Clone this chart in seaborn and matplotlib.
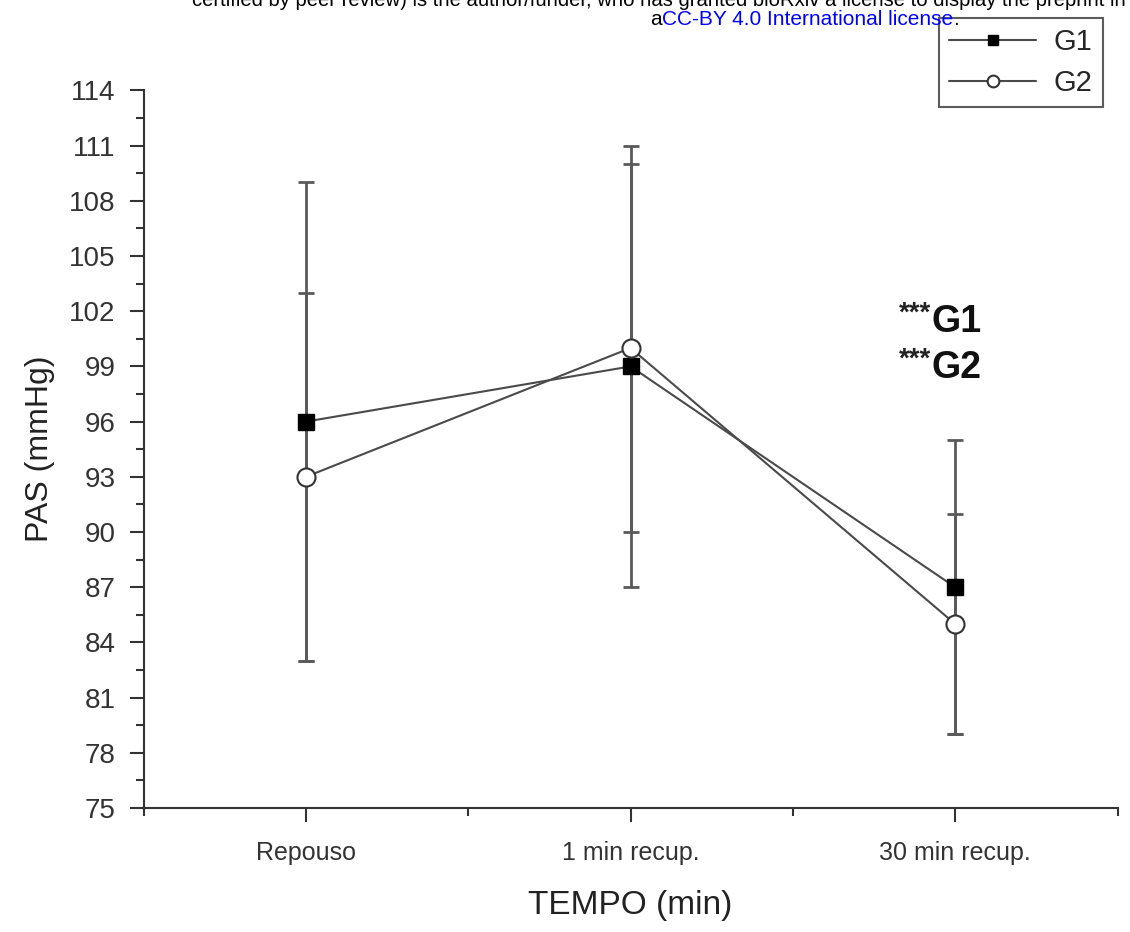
import matplotlib
matplotlib.use("Agg")
import matplotlib.pyplot as plt
import seaborn as sns
import pandas as pd
from matplotlib.ticker import FixedLocator, MultipleLocator

categories = ["Repouso", "1 min recup.", "30 min recup."]
g1_mean = [96, 99, 87]
g1_sd = [13, 12, 8]
g2_mean = [93, 100, 85]
g2_sd = [10, 10, 6]
y_ticks = [75, 78, 81, 84, 87, 90, 93, 96, 99, 102, 105, 108, 111, 114]

sns.set_theme(style="ticks")
plt.rcParams["font.family"] = ["Liberation Sans", "DejaVu Sans"]

fig = plt.figure(figsize=(11.3, 9.32), dpi=100)
ax = fig.add_axes([0.127, 0.133, 0.862, 0.770])

df = pd.DataFrame({
    "TEMPO": categories * 2,
    "PAS": g1_mean + g2_mean,
    "SD": g1_sd + g2_sd,
    "Grupo": ["G1"] * 3 + ["G2"] * 3,
})

ecol = "#5a5a5a"
lcol = "#4a4a4a"
xs = list(range(len(categories)))
ax.errorbar(xs, g1_mean, yerr=g1_sd, fmt="none", ecolor=ecol, elinewidth=2,
            capsize=6, capthick=2, zorder=2)
ax.errorbar(xs, g2_mean, yerr=g2_sd, fmt="none", ecolor=ecol, elinewidth=2,
            capsize=6, capthick=2, zorder=2)

d1 = df[df.Grupo == "G1"]
d2 = df[df.Grupo == "G2"]
sns.lineplot(data=d1, x="TEMPO", y="PAS", sort=False, ax=ax, color=lcol,
             linewidth=1.5, marker="s", markersize=11, markerfacecolor="black",
             markeredgecolor="black", markeredgewidth=1, label="G1", zorder=3)
sns.lineplot(data=d2, x="TEMPO", y="PAS", sort=False, ax=ax, color=lcol,
             linewidth=1.5, marker="o", markersize=13, markerfacecolor="white",
             markeredgecolor="#333333", markeredgewidth=1.5, label="G2", zorder=3)

ax.set_xlim(-0.5, 2.5)
ax.set_ylim(75, 114)
ax.set_yticks(y_ticks)
ax.yaxis.set_minor_locator(MultipleLocator(1.5))
ax.set_xticks(xs)
ax.set_xticklabels(categories)
ax.xaxis.set_minor_locator(FixedLocator([-0.5, 0.5, 1.5, 2.5]))
for s in ["top", "right"]:
    ax.spines[s].set_visible(False)
for s in ["left", "bottom"]:
    ax.spines[s].set_color("#333333")
    ax.spines[s].set_linewidth(1.5)
ax.tick_params(axis="both", which="major", length=10, width=1.5, color="#333333",
               labelcolor="#333333", pad=8)
ax.tick_params(axis="both", which="minor", length=6, width=1.5, color="#333333")
ax.tick_params(axis="y", labelsize=20, pad=10)
ax.tick_params(axis="x", labelsize=18, pad=14)

ax.set_xlabel("TEMPO (min)", fontsize=24, color="#222222", labelpad=18)
ax.set_ylabel("PAS (mmHg)", fontsize=23, color="#222222", labelpad=10)

# significance annotations
ax.text(1.926, 102.6, "***", fontsize=20, fontweight="bold", color="#222222",
        ha="right", va="top")
ax.text(1.926, 101.4, "G1", fontsize=27, fontweight="bold", color="#111111",
        ha="left", va="center")
ax.text(1.926, 100.1, "***", fontsize=20, fontweight="bold", color="#222222",
        ha="right", va="top")
ax.text(1.926, 98.9, "G2", fontsize=27, fontweight="bold", color="#111111",
        ha="left", va="center")

leg = ax.legend(loc="upper right", bbox_to_anchor=(0.976, 0.981),
                bbox_transform=fig.transFigure, frameon=True, fancybox=False,
                fontsize=21, handlelength=3.0, borderpad=0.35, labelspacing=0.45,
                handletextpad=0.6, borderaxespad=0, markerscale=0.65)
leg.get_frame().set_edgecolor("#333333")
leg.get_frame().set_linewidth(1.5)

# header text (preprint banner)
fig.text(0.996, 1 - 6 / 932,
         "certified by peer review) is the author/funder, who has granted bioRxiv a license to display the preprint in",
         fontsize=14.6, color="black", ha="right", va="baseline")
fig.canvas.draw()
r = fig.canvas.get_renderer()
x0 = 650 / 1130
yb = 1 - 25 / 932
parts = [("a", "black"), ("CC-BY 4.0 International license", "blue"), (".", "black")]
for txt, c in parts:
    t = fig.text(x0, yb, txt, fontsize=15, color=c, ha="left", va="baseline")
    bb = t.get_window_extent(renderer=r)
    x0 += bb.width / fig.bbox.width

fig.savefig("out.png", dpi=100)
